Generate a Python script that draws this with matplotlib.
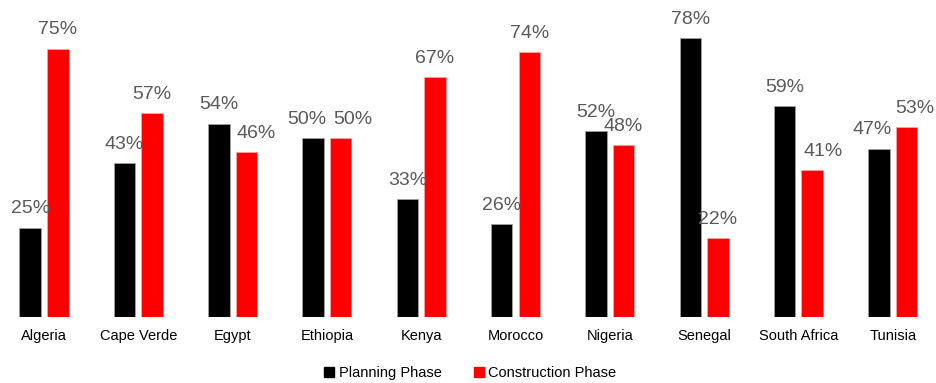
import matplotlib.pyplot as plt
from matplotlib.patches import Patch
import numpy as np

plt.rcParams['font.family'] = ['Liberation Sans', 'DejaVu Sans']

countries = ["Algeria", "Cape Verde", "Egypt", "Ethiopia", "Kenya",
             "Morocco", "Nigeria", "Senegal", "South Africa", "Tunisia"]
planning = [25, 43, 54, 50, 33, 26, 52, 78, 59, 47]
construction = [75, 57, 46, 50, 67, 74, 48, 22, 41, 53]

W, H = 937, 383
fig = plt.figure(figsize=(W / 100, H / 100), dpi=100)
base = 317
ax = fig.add_axes([0, (H - base) / H, 1, base / H])

x = np.arange(len(countries))
off = 0.146
bw = 0.228
b1 = ax.bar(x - off, planning, bw, color="black", edgecolor="#a0a0a0", linewidth=0.6)
b2 = ax.bar(x + off, construction, bw, color="#ff0000", edgecolor="#ffa0a0", linewidth=0.6)

# hand-placed labels: sideways nudge (points) where neighbours would collide
nudge = {(1, 2): 7.2, (0, 3): -4.7, (1, 3): 8.6,
         (1, 8): 7.9, (0, 9): -5.0, (1, 9): 6.1}

for s, (bars, vals) in enumerate(((b1, planning), (b2, construction))):
    for i, (rect, v) in enumerate(zip(bars, vals)):
        ax.annotate(f"{v}%", (rect.get_x() + rect.get_width() / 2, v),
                    xytext=(nudge.get((s, i), 0), 7.5), textcoords="offset points",
                    ha="center", va="bottom", fontsize=14, color="#595959")

px = 94.3
ax.set_xlim((0 - 44) / px, (W - 44) / px)
ax.set_ylim(0, base / 3.577)
ax.axis("off")

for i, c in enumerate(countries):
    ax.text(i, -5.3, c, ha="center", va="center", fontsize=10.5, color="black")

handles = [Patch(color="black", label="Planning Phase"),
           Patch(color="#ff0000", label="Construction Phase")]
fig.legend(handles=handles, loc="center", bbox_to_anchor=(0.502, 1 - 373 / H),
           ncol=2, frameon=False, fontsize=10.5, handlelength=0.7, handleheight=0.7,
           handletextpad=0.3, columnspacing=2.2)

fig.savefig("out.png", dpi=100)
